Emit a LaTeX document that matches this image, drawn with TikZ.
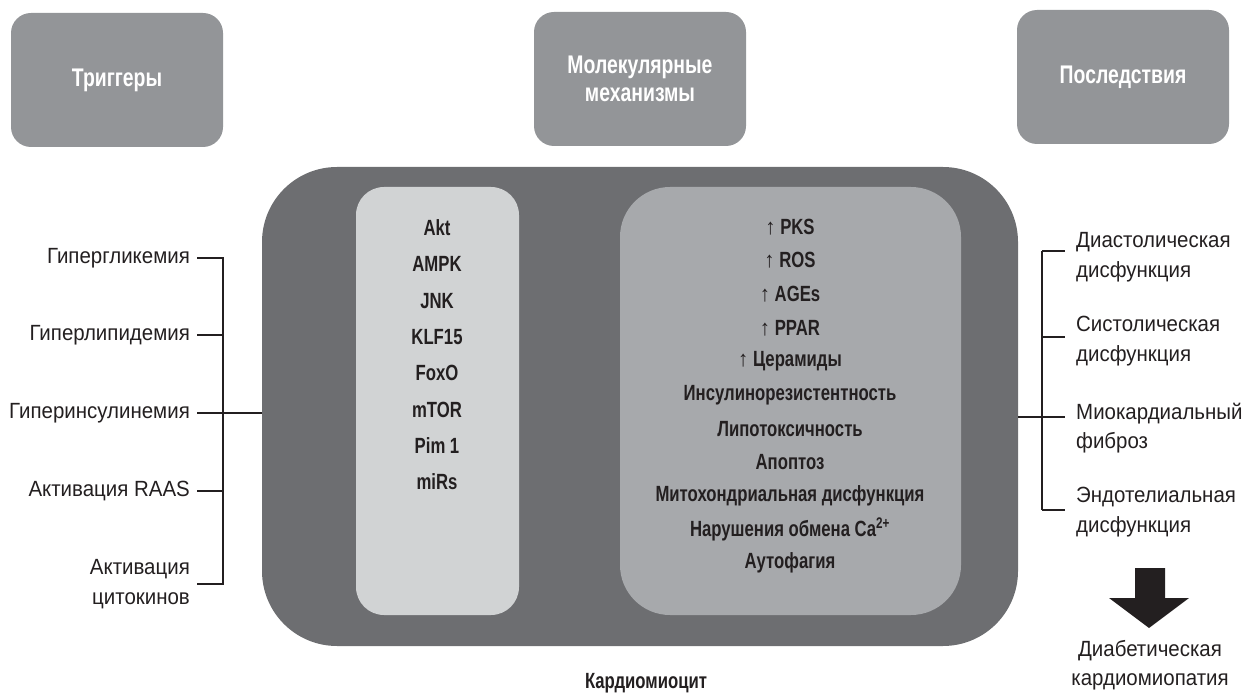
\documentclass[tikz,border=0pt]{standalone}
\usepackage{fontspec}
\setmainfont{Liberation Sans}[FakeStretch=0.93, BoldFeatures={FakeStretch=0.76}]
\usetikzlibrary{calc}
\definecolor{hdrgray}{RGB}{147,149,152}
\definecolor{cellgray}{RGB}{109,110,113}
\definecolor{palegray}{RGB}{209,211,212}
\definecolor{midgray}{RGB}{167,169,172}
\definecolor{inkdark}{RGB}{35,31,32}
\tikzset{
  hdrbox/.style={fill=hdrgray, rounded corners=20pt, minimum width=212pt, minimum height=134pt,
    inner sep=0pt, align=center, text=white, font=\fontsize{25.5}{28}\selectfont\bfseries},
  listtxt/.style={inner sep=0pt, text=inkdark, font=\fontsize{22}{26}\selectfont\bfseries},
  lbl/.style={inner sep=0pt, text=inkdark, font=\fontsize{22}{29.5}\selectfont},
  conn/.style={draw=inkdark, line width=1.2pt},
}
\begin{document}
\begin{tikzpicture}[x=1pt, y=-1pt]
		%%%%% START %%%%%
		\useasboundingbox (0,0) rectangle (1247,695);
		
		\node[hdrbox] (trig) at (117,80) {Триггеры};
		\node[hdrbox] (mech) at (640,79) {Молекулярные\\механизмы};
		\node[hdrbox] (cons) at (1123,77) {Последствия};
		
		\node[fill=cellgray, rounded corners=75pt, minimum width=756pt, minimum height=479pt, inner sep=0pt] (cell) at (640,406.5) {};
		\node[fill=palegray, rounded corners=28pt, minimum width=163pt, minimum height=428pt, inner sep=0pt] (path) at (437.5,401) {};
		\node[fill=midgray, rounded corners=50pt, minimum width=341pt, minimum height=428pt, inner sep=0pt] (effect) at (790.5,401) {};
		
		\foreach \txt [count=\i] in {Akt, AMPK, JNK, KLF15, FoxO, mTOR, Pim 1, miRs}
			\node[listtxt] (mol\i) at (437, {228+36.3*(\i-1)}) {\txt};
		
		\foreach \txt [count=\i] in {{\mdseries ↑} PKS, {\mdseries ↑} ROS, {\mdseries ↑} AGEs, {\mdseries ↑} PPAR,
			{\mdseries ↑} Церамиды, Инсулинорезистентность, Липотоксичность, Апоптоз,
			Митохондриальная дисфункция, Нарушения обмена Ca\textsuperscript{2+}, Аутофагия}
			\node[listtxt] (eff\i) at (790, {227+33.6*(\i-1)}) {\txt};
		
		\node[listtxt] (cellname) at (646,683) {Кардиомиоцит};
		
		% triggers
		\node[lbl, anchor=east] (tr1) at (190,258) {Гипергликемия};
		\node[lbl, anchor=east] (tr2) at (190,335) {Гиперлипидемия};
		\node[lbl, anchor=east] (tr3) at (190,413) {Гиперинсулинемия};
		\node[lbl, anchor=east] (tr4) at (190,491) {Активация RAAS};
		\node[lbl, anchor=east, align=right] (tr5) at (190,584) {Активация\\цитокинов};
		
		\coordinate (brkL) at (223,0);
		\draw[conn] ([xshift=7pt]tr1.east) -- (tr1.east -| brkL) -- (tr5.east -| brkL) -- ([xshift=7pt]tr5.east);
		\foreach \i in {2,4}
			\draw[conn] ([xshift=7pt]tr\i.east) -- (tr\i.east -| brkL);
		\draw[conn] ([xshift=7pt]tr3.east) -- (tr3.east -| cell.west);
		
		% consequences
		\node[lbl, anchor=west, align=left] (cs1) at (1076,257) {Диастолическая\\дисфункция};
		\node[lbl, anchor=west, align=left] (cs2) at (1076,341) {Систолическая\\дисфункция};
		\node[lbl, anchor=west, align=left] (cs3) at (1076,428) {Миокардиальный\\фиброз};
		\node[lbl, anchor=west, align=left] (cs4) at (1076,512) {Эндотелиальная\\дисфункция};
		
		\coordinate (tk1) at (1042,251);
		\coordinate (tk2) at (1042,337);
		\coordinate (tk3) at (1042,417);
		\coordinate (tk4) at (1042,510);
		\draw[conn] (tk1) -- (tk4);
		\foreach \i in {1,...,4}
			\draw[conn] (tk\i) -- ([xshift=-11pt]tk\i -| cs\i.west);
		\draw[conn] (cell.east |- tk3) -- (tk3);
		
		\fill[inkdark] (1135,568) -- (1165,568) -- (1165,598) -- (1189,598) -- (1149,628)
			-- (1109,598) -- (1135,598) -- cycle;
		\node[lbl, align=center] (dcm) at (1150,665) {Диабетическая\\кардиомиопатия};
		%%%%% END %%%%%
\end{tikzpicture}
\end{document}
